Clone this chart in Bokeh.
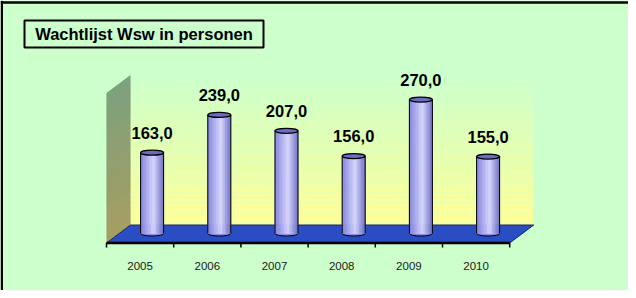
import numpy as np
from bokeh.plotting import figure
from bokeh.models import ColumnDataSource, Range1d
from bokeh.core.properties import value
from bokeh.embed import file_html
from bokeh.resources import INLINE

# ---------------- data ----------------
title_text = "Wachtlijst Wsw in personen"
years = ["2005", "2006", "2007", "2008", "2009", "2010"]
counts = [163.0, 239.0, 207.0, 156.0, 270.0, 155.0]

# ---------------- geometry (pixels) ----------------
W, H = 628, 290
PX_CAT = 67.2      # pixels per category
PX_VAL = 0.496     # pixels per unit of value
X0 = 106           # canvas x of category axis start
Y0 = 233           # canvas y of value zero (bar base)
DEPTH_X, DEPTH_Y = 24, 18
FRONT = -9.5       # floor front edge, px relative to base
BACK = FRONT + DEPTH_Y
WALL_TOP = 158     # top of walls (back edge), px above base
CYL_W = 23
CYL_E = 5
FONT = "Liberation Sans"


def dx(px):
    return px / PX_CAT


def dy(px):
    return px / PX_VAL


def cx(px):   # canvas x -> data x
    return (px - X0) / PX_CAT


def cy(py):   # canvas y (from top) -> data y
    return (Y0 - py) / PX_VAL


def hexc(rgb):
    return "#%02x%02x%02x" % tuple(int(round(c)) for c in rgb)


def lerp(a, b, t):
    return [a[i] + (b[i] - a[i]) * t for i in range(3)]


n = len(years)
idx = np.arange(n)

p = figure(width=W, height=H, output_backend="svg", toolbar_location=None,
           x_range=Range1d(cx(0), cx(W)), y_range=Range1d(cy(H), cy(0)),
           x_axis_location=None, y_axis_location=None, min_border=0)
p.background_fill_color = "#CCFFCC"
p.border_fill_color = "#CCFFCC"
p.outline_line_color = None
p.grid.grid_line_color = None

# ---------------- back wall gradient ----------------
nb = 60
hs = np.linspace(BACK, WALL_TOP, nb + 1)
bot_c, top_c = (255, 255, 150), (204, 255, 204)
p.quad(left=[dx(DEPTH_X)] * nb, right=[n + dx(DEPTH_X)] * nb,
       bottom=[dy(h) for h in hs[:-1]], top=[dy(h) for h in hs[1:]],
       fill_color=[hexc(lerp(bot_c, top_c, (k + 0.5) / nb)) for k in range(nb)],
       line_color=None)

# ---------------- left wall gradient ----------------
lw_bot, lw_top = (166, 156, 96), (124, 160, 126)
hl = np.linspace(0, WALL_TOP - BACK, nb + 1)
xs_w, ys_w, cols_w = [], [], []
for k in range(nb):
    h0, h1 = hl[k], hl[k + 1] + 0.6
    xs_w.append([0, dx(DEPTH_X), dx(DEPTH_X), 0])
    ys_w.append([dy(FRONT + h0), dy(BACK + h0), dy(BACK + h1), dy(FRONT + h1)])
    cols_w.append(hexc(lerp(lw_bot, lw_top, (k + 0.5) / nb)))
p.patches(xs_w, ys_w, fill_color=cols_w, line_color=None)

# ---------------- floor ----------------
p.patch([0, dx(DEPTH_X), n + dx(DEPTH_X), n],
        [dy(FRONT), dy(BACK), dy(BACK), dy(FRONT)],
        fill_color="#2A4DC4", line_color="#16266e", line_width=1)

# axis line and ticks
p.segment(x0=[0], y0=[dy(FRONT)], x1=[n], y1=[dy(FRONT)],
          line_color="black", line_width=2.5)
tick_x = np.arange(n + 1)
p.segment(x0=tick_x, y0=[dy(FRONT)] * (n + 1), x1=tick_x,
          y1=[dy(FRONT - 4.5)] * (n + 1), line_color="black", line_width=1.5)

# year labels
p.text(x=idx + 0.5, y=[dy(-32)] * n, text=years,
       text_font=value(FONT), text_font_size="11.5px", text_color="#1a1a1a",
       text_align="center", text_baseline="middle")

# ---------------- cylinders ----------------
xc = idx + 0.5 + dx(DEPTH_X / 2)
# bottom ellipse
p.ellipse(x=xc, y=[0] * n, width=dx(CYL_W), height=dy(CYL_E),
          fill_color="#8c8ce1", line_color="black", line_width=1)
NS = 16
c_left, c_hi, c_right = (128, 128, 222), (214, 214, 255), (112, 112, 200)
sx, stop, scol = [], [], []
for i in range(n):
    for k in range(NS):
        t = (k + 0.5) / NS
        if t < 0.58:
            col = lerp(c_left, c_hi, t / 0.58)
        else:
            col = lerp(c_hi, c_right, (t - 0.58) / 0.42)
        sx.append(xc[i] + dx(-CYL_W / 2 + (k + 0.5) * CYL_W / NS))
        stop.append(counts[i])
        scol.append(hexc(col))
src = ColumnDataSource(dict(x=sx, top=stop, color=scol))
p.vbar(x="x", top="top", bottom=0, width=dx(CYL_W / NS), source=src,
       fill_color="color", line_color="color", line_width=0.6)
# sides
p.segment(x0=list(xc - dx(CYL_W / 2)) + list(xc + dx(CYL_W / 2)),
          y0=[0] * (2 * n),
          x1=list(xc - dx(CYL_W / 2)) + list(xc + dx(CYL_W / 2)),
          y1=counts + counts, line_color="black", line_width=1)
# top ellipse
p.ellipse(x=xc, y=counts, width=dx(CYL_W), height=dy(CYL_E),
          fill_color="#6c6cc4", line_color="black", line_width=1.3)

# value labels
labels = [("%.1f" % v).replace(".", ",") for v in counts]
p.text(x=xc, y=[v + dy(20) for v in counts], text=labels,
       text_font=value(FONT), text_font_size="16.5px", text_font_style="bold",
       text_color="black", text_align="center", text_baseline="middle")

# ---------------- title box ----------------
p.rect(x=[cx(143.5)], y=[cy(33.5)], width=239, height=27,
       width_units="screen", height_units="screen",
       fill_color=None, line_color="black", line_width=2)
p.text(x=[cx(143.5)], y=[cy(33.5)], text=[title_text],
       text_font=value(FONT), text_font_size="16.5px", text_font_style="bold",
       text_color="black", text_align="center", text_baseline="middle")

# ---------------- outer border (left and top) ----------------
p.segment(x0=[cx(1.3), cx(0.2)], y0=[cy(0.2), cy(2.0)],
          x1=[cx(1.3), cx(W)], y1=[cy(H), cy(2.0)],
          line_color="black", line_width=2.4)

open("out.html", "w").write(file_html(p, INLINE))
